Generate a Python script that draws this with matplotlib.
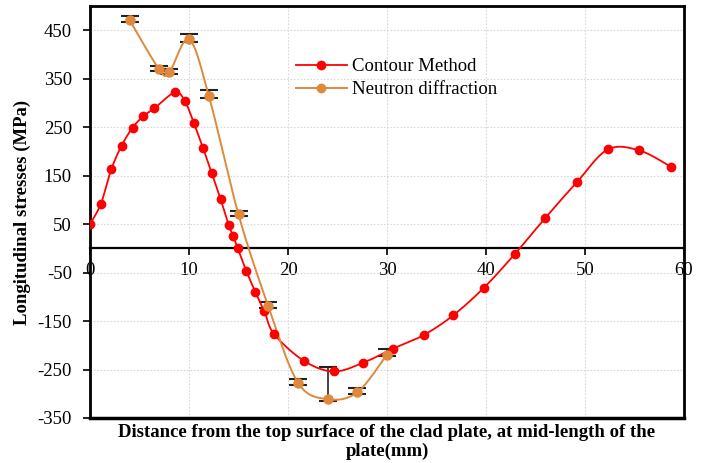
import numpy as np
from matplotlib import pyplot as plt

plt.rcParams['font.family'] = ['Liberation Serif', 'DejaVu Serif']
plt.rcParams['axes.unicode_minus'] = False

# Contour method measurements (mm, MPa)
cm_x = [0.0, 1.1, 2.15, 3.2, 4.3, 5.4, 6.5, 8.6, 9.6, 10.5, 11.4, 12.3, 13.2,
        14.0, 14.45, 14.9, 15.8, 16.7, 17.6, 18.6, 21.6, 24.6, 27.6, 30.6,
        33.7, 36.7, 39.8, 42.9, 46.0, 49.2, 52.3, 55.5, 58.7]
cm_y = [50, 92, 163, 212, 249, 273, 289, 322, 303, 258, 208, 155, 101,
        49, 26, 1, -47, -90, -129, -177, -232, -254, -236, -207,
        -179, -138, -81, -12, 63, 137, 204, 202, 168]

# Neutron diffraction measurements with error bars
nd_x = [4, 7, 8, 10, 12, 15, 18, 21, 24, 27, 30]
nd_y = [471, 369, 363, 431, 315, 70, -119, -277, -311, -297, -219]
nd_err_lo = [4, 4, 4, 5, 5, 4, 4, 4, 4, 4, 4]
nd_err_hi = [8, 8, 8, 12, 12, 8, 9, 8, 67, 8, 11]

x_ticks = [0, 10, 20, 30, 40, 50, 60]
y_ticks = [450, 350, 250, 150, 50, -50, -150, -250, -350]


def smooth(xs, ys, sx=60.0, sy=850.0, n=20):
    # catmull-rom curve through the points, like a spreadsheet "smoothed line"
    p = np.column_stack([np.array(xs) / sx, np.array(ys) / sy])
    p = np.vstack([p[0], p, p[-1]])
    out = []
    for i in range(1, len(p) - 2):
        p0, p1, p2, p3 = p[i - 1], p[i], p[i + 1], p[i + 2]
        t = np.linspace(0, 1, n, endpoint=False)[:, None]
        c = 0.5 * ((2 * p1) + (-p0 + p2) * t + (2 * p0 - 5 * p1 + 4 * p2 - p3) * t ** 2
                   + (-p0 + 3 * p1 - 3 * p2 + p3) * t ** 3)
        out.append(c)
    out.append(p[-2][None, :])
    out = np.vstack(out)
    return out[:, 0] * sx, out[:, 1] * sy


fig = plt.figure(figsize=(7.08, 4.63), dpi=100)
ax = fig.add_axes([90 / 708, 45 / 463, 594 / 708, 412 / 463])

red = '#ff0000'
orange = '#e0883c'

sx, sy = smooth(cm_x, cm_y)
ax.plot(sx, sy, color=red, lw=1.3, zorder=3)
ax.plot(cm_x, cm_y, 'o', color=red, ms=6, zorder=4)

ox, oy = smooth(nd_x, nd_y)
ax.plot(ox, oy, color=orange, lw=1.4, zorder=3)
ax.errorbar(nd_x, nd_y, yerr=[nd_err_lo, nd_err_hi], fmt='none', ecolor='#222222',
            elinewidth=1.2, capsize=6.5, capthick=1.5, zorder=2)
ax.plot(nd_x, nd_y, 'o', color=orange, ms=6.5, zorder=4)

# legend handles
ax.plot([], [], '-o', color=red, ms=6, lw=1.3, label='Contour Method')
ax.plot([], [], '-o', color=orange, ms=6, lw=1.4, label='Neutron diffraction')
ax.legend(loc='upper left', bbox_to_anchor=(0.347, 0.873), frameon=False,
          fontsize=13.5, handlelength=2.7, borderpad=0, borderaxespad=0,
          labelspacing=0.3, handletextpad=0.3)

ax.set_xlim(0, 60)
ax.set_ylim(-350, 500)
ax.set_xticks(x_ticks)
ax.set_yticks(y_ticks)
ax.grid(True, color='#d8d8d8', linestyle=(0, (1.5, 1.5)), lw=0.8)

# x axis sits on zero, frame line kept at the bottom
ax.spines['bottom'].set_position(('data', 0))
ax.spines['bottom'].set_linewidth(1.6)
for s in ['left', 'right', 'top']:
    ax.spines[s].set_linewidth(2)
ax.plot([0, 60], [-350, -350], color='black', lw=2.5, clip_on=False, zorder=5)

ax.tick_params(axis='x', direction='out', length=5, width=1.2, labelsize=13.5, pad=5)
ax.tick_params(axis='y', direction='out', length=5, width=1.2, labelsize=13.5, pad=8)

ax.set_ylabel('Longitudinal stresses (MPa)', fontsize=13.5, fontweight='bold', labelpad=5)
fig.text(387 / 708, 1 - 442 / 463,
         'Distance from the top surface of the clad plate, at mid-length of the\nplate(mm)',
         ha='center', va='center', fontsize=13.5, fontweight='bold', linespacing=1.15)

fig.savefig('out.png', dpi=100)
